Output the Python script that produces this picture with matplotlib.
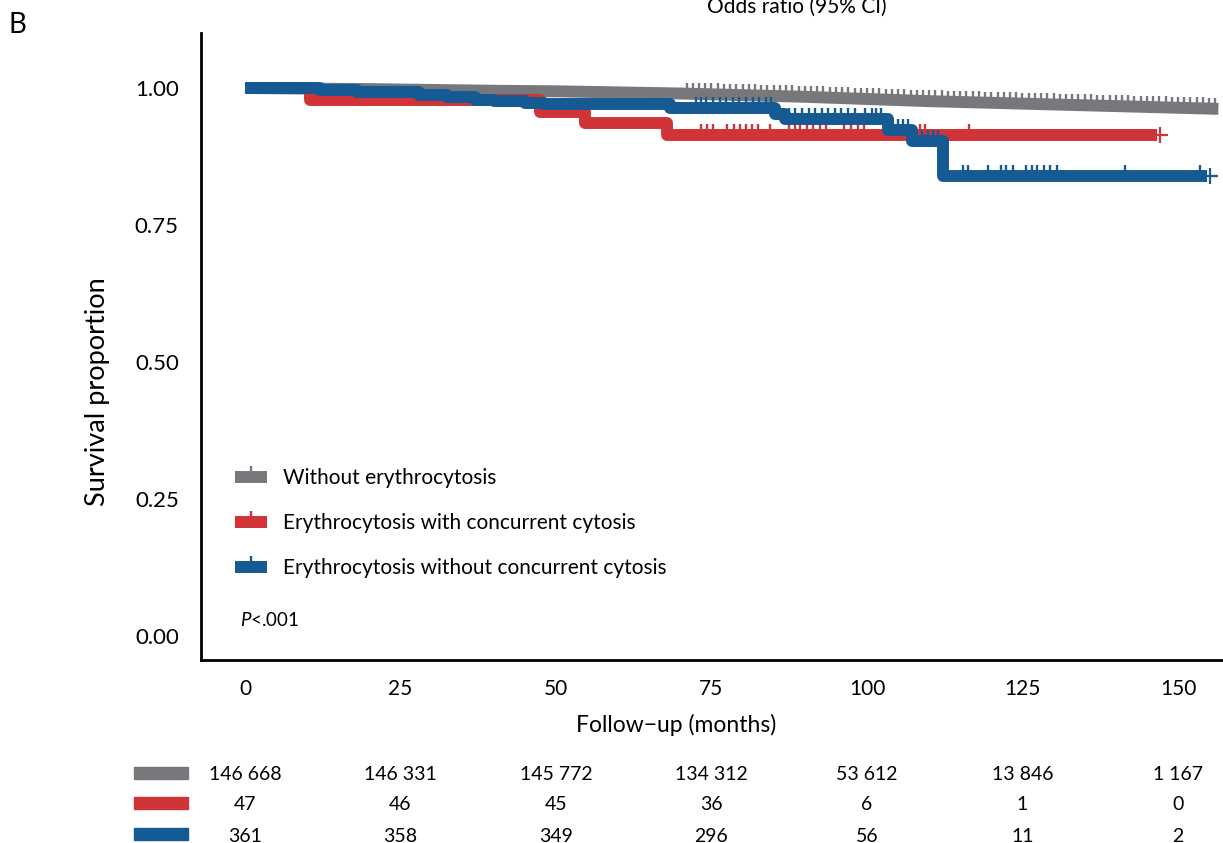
import numpy as np
import matplotlib
matplotlib.use("Agg")
import matplotlib.pyplot as plt
from matplotlib.lines import Line2D
from matplotlib.patches import Rectangle
import matplotlib.transforms as mtransforms

plt.rcParams['font.family'] = ['Lato', 'DejaVu Sans']
plt.rcParams['mathtext.fontset'] = 'custom'
plt.rcParams['mathtext.it'] = 'Lato:italic'
plt.rcParams['mathtext.rm'] = 'Lato'

# Kaplan-Meier curves (months, survival proportion)
gray_t = [0, 20, 40, 50, 60, 70, 80, 90, 100, 110, 120, 130, 140, 150, 156.5]
gray_s = [1.000, 0.998, 0.995, 0.994, 0.992, 0.990, 0.987, 0.984, 0.980,
          0.976, 0.973, 0.970, 0.967, 0.964, 0.962]
gray_cens = list(range(71, 157))  # one censoring mark per month

red_t = [0, 10.5, 47.5, 54.7, 67.8, 146.6]
red_s = [1.000, 0.979, 0.957, 0.936, 0.915, 0.915]
red_cens = [73.3, 74.3, 75.2, 77.5, 78.6, 79.6, 80.5, 81.5, 82.5, 84.4,
            87.4, 88.4, 89.3, 90.4, 91.4, 92.4, 93.4, 96.3, 97.4, 98.6,
            99.5, 108.6, 109.3, 116.4]

blue_t = [0, 12, 18, 28, 32.5, 37, 40, 45, 48, 68.3, 85.2, 86.8, 103.4,
          107.2, 112.3, 154.6]
blue_s = [1.000, 0.997, 0.993, 0.987, 0.983, 0.979, 0.976, 0.973, 0.970,
          0.963, 0.953, 0.943, 0.923, 0.903, 0.839, 0.839]
blue_cens = [72.5, 73.3, 74.2, 75.2, 76.3, 77.3, 78.4, 79.4, 80.5, 81.6,
             82.6, 83.7, 84.5, 87.5, 88.4, 89.5, 90.6, 91.6, 92.7, 93.8,
             94.9, 95.9, 97.0, 98.0, 99.7, 100.8, 101.5, 102.3, 105.0,
             105.8, 106.6, 108.8, 109.8, 110.6, 111.4, 115.5, 116.3, 119.4,
             121.5, 122.4, 123.5, 125.6, 126.5, 127.4, 128.5, 129.5, 130.6,
             141.5, 153.5]

labels = ["Without erythrocytosis",
          "Erythrocytosis with concurrent cytosis",
          "Erythrocytosis without concurrent cytosis"]
colors = ["#76787b", "#d13438", "#165a94"]

risk_times = [0, 25, 50, 75, 100, 125, 150]
risk_gray = ["146 668", "146 331", "145 772", "134 312", "53 612", "13 846", "1 167"]
risk_red = ["47", "46", "45", "36", "6", "1", "0"]
risk_blue = ["361", "358", "349", "296", "56", "11", "2"]

W, H = 1223, 843
fig = plt.figure(figsize=(W / 100, H / 100), dpi=100)

x0, x1 = -7.07, 158.0
y0, y1 = -0.0438, 1.1004
px_per_month = 6.22
ax_w = (x1 - x0) * px_per_month
ax_h = 660 - 33
ax = fig.add_axes([201 / W, (H - 660) / H, ax_w / W, ax_h / H])
ax.set_xlim(x0, x1)
ax.set_ylim(y0, y1)


def step_at(t, s, q):
    idx = np.searchsorted(t, q, side='right') - 1
    return np.asarray(s)[idx]


LW = 8.6
# gray curve is dense enough to read as a smooth slope
ax.plot(gray_t, gray_s, color=colors[0], lw=LW, solid_capstyle='butt',
        solid_joinstyle='round', zorder=2)
ax.plot(gray_cens, np.interp(gray_cens, gray_t, gray_s), ls='none',
        marker=2, ms=8, mew=1.7, color=colors[0], zorder=2.1)

for t, s, cens, c, z in [(red_t, red_s, red_cens, colors[1], 3),
                         (blue_t, blue_s, blue_cens, colors[2], 4)]:
    ax.step(t, s, where='post', color=c, lw=LW, solid_capstyle='butt',
            solid_joinstyle='round', zorder=z)
    ax.plot(cens, step_at(t, s, cens), ls='none', marker=2, ms=8, mew=1.7,
            color=c, zorder=z + 0.1)
    ax.plot([t[-1] + 0.5], [s[-1]], marker='+', ms=11, mew=1.6, color=c,
            zorder=z + 0.1)

for side in ['top', 'right']:
    ax.spines[side].set_visible(False)
for side in ['left', 'bottom']:
    ax.spines[side].set_linewidth(2.0)
    ax.spines[side].set_color('black')

ax.set_yticks([0, 0.25, 0.5, 0.75, 1.0])
ax.set_yticklabels(["0.00", "0.25", "0.50", "0.75", "1.00"])
ax.set_xticks(risk_times)
ax.tick_params(axis='both', length=0)
ax.tick_params(axis='y', pad=16, labelsize=16)
ax.tick_params(axis='x', pad=14, labelsize=15)

ax.set_ylabel("Survival proportion", fontsize=19.5, va='center')
ax.yaxis.set_label_coords((98 - 201) / ax_w, (660 - 392) / ax_h)
ax.set_xlabel("Follow\u2212up (months)", fontsize=16.5, va='center')
ax.xaxis.set_label_coords((676 - 201) / ax_w, -(725 - 660) / ax_h)

handles = [(Line2D([], [], color=c, lw=LW, solid_capstyle='butt'),
            Line2D([], [], color=c, ls='none', marker=2, ms=8, mew=1.7))
           for c in colors]
leg = ax.legend(handles, labels, loc='upper left',
                bbox_to_anchor=(34 / ax_w, 1 - (468 - 33) / ax_h),
                frameon=False, fontsize=15, handlelength=1.55,
                handletextpad=0.75, labelspacing=1.2, borderaxespad=0,
                borderpad=0)

ax.text(240, H - 620, "$P$<.001", transform=mtransforms.IdentityTransform(),
        fontsize=13.5, va='center')

fig.text(17 / W, 1 - 25 / H, "B", fontsize=20, ha='center', va='center')
fig.text(797 / W, 1 - 13 / H, "Odds ratio (95% CI)", fontsize=15,
         ha='center', va='baseline')

# numbers at risk table below the axis
trans = mtransforms.blended_transform_factory(ax.transData, fig.transFigure)
row_y = [775, 805, 836]
for row, c, yy in zip([risk_gray, risk_red, risk_blue], colors, row_y):
    fig.patches.append(Rectangle((134 / W, 1 - (yy + 4) / H), 54 / W, 12 / H,
                                 transform=fig.transFigure, color=c))
    for t, txt in zip(risk_times, row):
        fig.text(t, 1 - yy / H, txt, transform=trans, ha='center',
                 va='center', fontsize=14)

fig.savefig("out.png", dpi=100)
